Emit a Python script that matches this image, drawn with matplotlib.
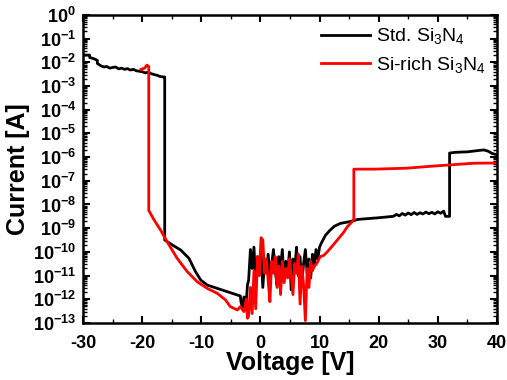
import math
import matplotlib
matplotlib.use('Agg')
import matplotlib.pyplot as plt
from matplotlib.ticker import LogLocator, MultipleLocator, FuncFormatter, NullFormatter

plt.rcParams['font.family'] = 'Liberation Sans'
plt.rcParams['mathtext.fontset'] = 'custom'
plt.rcParams['mathtext.rm'] = 'Liberation Sans'
plt.rcParams['mathtext.bf'] = 'Liberation Sans:bold'
plt.rcParams['mathtext.default'] = 'regular'
plt.rcParams['axes.unicode_minus'] = False

# ---- Std. Si3N4 (voltage [V], log10 current [A]) ----
std_v_high = [-30.0, -28.9, -28.9, -28.2, -27.6, -27.6, -27.0, -26.5, -26.0, -25.5, -25.0,
              -24.5, -24.0, -23.5, -23.0, -22.5, -22.0, -21.5, -21.0, -20.5, -20.0, -19.5,
              -19.0, -18.5, -18.0, -17.5, -17.0, -16.5, -16.2]
std_log_high = [-1.70, -1.70, -1.80, -1.85, -1.92, -2.05, -2.15, -2.20, -2.18, -2.25, -2.22,
                -2.20, -2.28, -2.25, -2.30, -2.27, -2.33, -2.30, -2.36, -2.38, -2.40, -2.45,
                -2.42, -2.48, -2.52, -2.55, -2.60, -2.62, -2.62]
std_v_low = [-16.2, -14.9, -13.5, -12.1, -11.0, -10.1, -9.0, -7.3, -5.6, -3.9, -3.4,
             -3.3, -3.0, -2.8, -2.5, -2.2]
std_log_low = [-9.50, -9.71, -9.92, -10.27, -10.83, -11.19, -11.40, -11.54, -11.68, -11.82, -11.86,
               -12.10, -12.40, -11.90, -12.45, -11.40]
std_v_noise = [-2.0, -1.7, -1.4, -1.1, -0.8, -0.5, -0.2, 0.1, 0.4, 0.7, 1.0, 1.3, 1.6, 1.9,
               2.2, 2.5, 2.8, 3.1, 3.4, 3.7, 4.0, 4.3, 4.6, 4.9, 5.2, 5.5, 5.8, 6.1, 6.4,
               6.7, 7.0, 7.3, 7.6, 7.9, 8.2, 8.5, 8.8, 9.1, 9.4, 9.7, 10.0]
std_log_noise = [-11.2, -9.9, -10.7, -9.8, -11.3, -10.2, -10.9, -10.0, -11.5, -10.4, -10.9,
                 -10.1, -11.1, -10.5, -9.9, -10.8, -11.4, -10.2, -10.7, -9.9, -11.2, -10.4,
                 -10.9, -10.0, -11.6, -10.3, -10.8, -9.8, -11.0, -10.2, -11.3, -10.5, -9.9,
                 -10.9, -10.3, -11.1, -10.1, -10.6, -9.9, -10.3, -9.8]
std_v_pos = [10.3, 11.0, 11.8, 12.5, 13.5, 15.2, 16.5, 18.0, 20.0, 22.5, 23.0, 23.5, 24.0,
             24.5, 25.0, 25.5, 26.0, 26.5, 27.0, 27.5, 28.0, 28.5, 29.0, 29.5, 30.0, 30.5,
             31.0, 31.3, 32.0, 32.0, 33.0, 35.0, 37.0, 37.8, 38.5, 39.2, 40.0]
std_log_pos = [-9.63, -9.30, -9.08, -8.92, -8.80, -8.72, -8.63, -8.60, -8.56, -8.50, -8.42,
               -8.48, -8.38, -8.45, -8.36, -8.43, -8.34, -8.42, -8.35, -8.40, -8.32, -8.39,
               -8.33, -8.40, -8.31, -8.37, -8.28, -8.50, -8.50, -5.83, -5.80, -5.78, -5.72,
               -5.70, -5.75, -5.85, -5.90]

# ---- Si-rich Si3N4 ----
rich_v_neg = [-20.2, -19.6, -19.2, -18.9, -18.9, -18.0, -16.9, -15.8, -14.1, -12.4, -10.7,
              -9.0, -7.3, -5.9, -5.1, -3.9, -3.4, -2.8, -2.4, -2.2]
rich_log_neg = [-2.30, -2.25, -2.12, -2.18, -8.25, -8.65, -9.08, -9.57, -10.27, -10.83, -11.26,
                -11.54, -11.75, -12.03, -12.31, -12.45, -12.31, -12.52, -12.00, -12.80]
rich_v_noise = [-2.0, -1.7, -1.4, -1.1, -0.8, -0.5, -0.2, 0.1, 0.4, 0.7, 1.0, 1.3, 1.6, 1.9,
                2.2, 2.5, 2.8, 3.1, 3.4, 3.7, 4.0, 4.3, 4.6, 4.9, 5.2, 5.5, 5.8, 6.1, 6.4,
                6.7, 7.0, 7.3, 7.6, 7.9, 8.2, 8.5, 8.8]
rich_log_noise = [-12.7, -11.5, -12.6, -10.8, -12.4, -10.2, -11.0, -9.4, -9.5, -10.9, -10.3,
                  -11.2, -12.1, -10.4, -10.9, -10.2, -11.5, -10.6, -11.8, -10.4, -11.3, -10.7,
                  -11.1, -10.3, -11.0, -11.8, -10.5, -10.9, -10.1, -12.2, -10.6, -11.4, -12.9,
                  -10.7, -11.5, -10.4, -10.8]
rich_v_pos = [9.1, 9.5, 10.1, 10.7, 11.3, 12.0, 13.0, 14.0, 14.7, 15.8, 15.8, 19.2, 22.0,
              24.8, 28.2, 32.1, 36.1, 40.0]
rich_log_pos = [-10.6, -10.5, -10.2, -10.15, -10.0, -9.8, -9.5, -9.2, -8.94, -8.65, -6.51,
                -6.51, -6.49, -6.47, -6.40, -6.33, -6.26, -6.25]

std_v = std_v_high + std_v_low + std_v_noise + std_v_pos
std_i = [10 ** p for p in std_log_high + std_log_low + std_log_noise + std_log_pos]
rich_v = rich_v_neg + rich_v_noise + rich_v_pos
rich_i = [10 ** p for p in rich_log_neg + rich_log_noise + rich_log_pos]

fig = plt.figure(figsize=(5.07, 3.80), dpi=100)
ax = fig.add_axes([0.164, 0.150, 0.816, 0.811])

ax.plot(std_v, std_i, color='black', lw=2.0, label='Std. Si$_3$N$_4$')
ax.plot(rich_v, rich_i, color='#ff0000', lw=2.0, label='Si-rich Si$_3$N$_4$')

ax.set_yscale('log')
ax.set_xlim(-30, 40)
ax.set_ylim(1e-13, 1)
ax.xaxis.set_major_locator(MultipleLocator(10))
ax.xaxis.set_minor_locator(MultipleLocator(5))
ax.yaxis.set_major_locator(LogLocator(base=10, numticks=20))
ax.yaxis.set_minor_locator(LogLocator(base=10, subs=range(2, 10), numticks=20))
ax.yaxis.set_minor_formatter(NullFormatter())
ax.yaxis.set_major_formatter(FuncFormatter(lambda v, p: r'$\mathbf{10^{%d}}$' % round(math.log10(v))))

ax.tick_params(which='both', direction='in', top=True, right=True)
ax.tick_params(which='major', length=5, width=1.5, labelsize=13)
ax.tick_params(axis='x', which='major', pad=9)
ax.tick_params(axis='y', which='major', pad=5)
ax.tick_params(which='minor', length=3, width=1)
for lab in ax.get_xticklabels():
    lab.set_fontweight('bold')
for s in ax.spines.values():
    s.set_linewidth(1.8)

ax.set_xlabel('Voltage [V]', fontsize=18, fontweight='bold', labelpad=-1)
ax.set_ylabel('Current [A]', fontsize=18, fontweight='bold', labelpad=2)

ax.legend(loc='upper right', frameon=False, fontsize=14, handlelength=2.5,
          handletextpad=0.3, labelspacing=0.45, borderaxespad=0.2)

fig.savefig('out.png', dpi=100)
